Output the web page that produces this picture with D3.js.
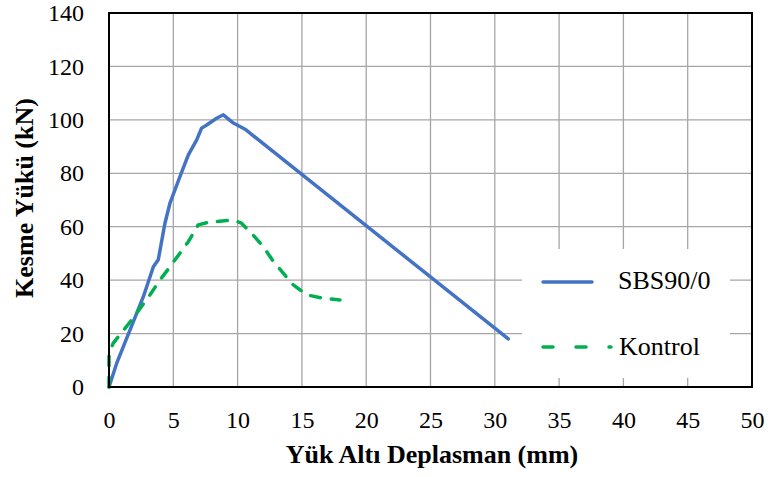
<!DOCTYPE html>
<html>
<head>
<meta charset="utf-8">
<script src="https://cdn.jsdelivr.net/npm/d3@7"></script>
<style>
  html, body { margin: 0; padding: 0; background: #fff; }
  svg { display: block; }
</style>
</head>
<body>
<svg id="chart" width="768" height="477"></svg>
<script>
// Load–displacement curves (displacement in mm, shear load in kN)
const sbsX = [0, 0.6, 1.63, 2.67, 3.45, 3.83, 4.35, 4.74, 5.52, 6.17, 6.82, 7.2, 7.6, 8.37, 8.89, 9.67, 10.58, 31.05];
const sbsY = [0, 8.9, 21.3, 33.8, 45, 47.6, 61.3, 68.8, 78.8, 86.9, 92.5, 96.9, 98.1, 100.6, 101.9, 98.8, 96.5, 18.0];

const kontrolX = [0, 0, 0.33, 1.76, 3.19, 3.97, 4.74, 6.17, 6.94, 7.6, 9.15, 9.8, 10.3, 11.2, 12.0, 12.8, 13.55, 14.33, 15.37, 16.67, 17.96];
const kontrolY = [0, 12.6, 16.4, 25.1, 34.5, 40.1, 45, 54.4, 60.7, 61.5, 62.3, 62.3, 61.3, 56.9, 52.5, 46.9, 42.6, 38.2, 34.5, 33.2, 32.6];

const xTicks = [0, 5, 10, 15, 20, 25, 30, 35, 40, 45, 50];
const yTicks = [0, 20, 40, 60, 80, 100, 120, 140];

const seriesNames = ["SBS90/0", "Kontrol"];
const xTitle = "Yük Altı Deplasman (mm)";
const yTitle = "Kesme Yükü (kN)";

const svg = d3.select("#chart");
const plotL = 109, plotR = 752, plotT = 13, plotB = 387;
const x = d3.scaleLinear().domain([0, 50]).range([plotL, plotR]);
const y = d3.scaleLinear().domain([0, 140]).range([plotB, plotT]);
const serif = "'Liberation Serif', 'Times New Roman', Times, serif";

// grid
const grid = svg.append("g").attr("stroke", "#a6a6a6").attr("stroke-width", 1.3);
grid.selectAll(".gx").data(xTicks).join("line")
  .attr("x1", d => x(d)).attr("x2", d => x(d)).attr("y1", plotT).attr("y2", plotB);
grid.selectAll(".gy").data(yTicks).join("line")
  .attr("x1", plotL).attr("x2", plotR).attr("y1", d => y(d)).attr("y2", d => y(d));

// axes (labels only; frame drawn below)
const xAxis = svg.append("g").attr("transform", `translate(0,${plotB})`)
  .call(d3.axisBottom(x).tickValues(xTicks).tickSize(0).tickPadding(24));
const yAxis = svg.append("g").attr("transform", `translate(${plotL},0)`)
  .call(d3.axisLeft(y).tickValues(yTicks).tickSize(0).tickPadding(25));
[xAxis, yAxis].forEach(a => {
  a.attr("font-family", serif).attr("font-size", 24);
  a.select(".domain").remove();
  a.selectAll("text").attr("fill", "#000");
});

// legend background
svg.append("rect").attr("x", 522).attr("y", 249).attr("width", 208).attr("height", 129).attr("fill", "#fff");

// series
const line = d3.line().x(d => x(d[0])).y(d => y(d[1]));
svg.append("path").datum(d3.zip(sbsX, sbsY)).attr("d", line)
  .attr("fill", "none").attr("stroke", "#4472C4").attr("stroke-width", 3.5)
  .attr("stroke-linejoin", "round").attr("stroke-linecap", "round");
svg.append("path").datum(d3.zip(kontrolX, kontrolY)).attr("d", line)
  .attr("fill", "none").attr("stroke", "#00B050").attr("stroke-width", 3.5)
  .attr("stroke-dasharray", "10,11").attr("stroke-linecap", "round").attr("stroke-linejoin", "round");

// frame
svg.append("rect").attr("x", plotL).attr("y", plotT).attr("width", plotR - plotL).attr("height", plotB - plotT)
  .attr("fill", "none").attr("stroke", "#000").attr("stroke-width", 2);

// legend
const lg = svg.append("g");
lg.append("line").attr("x1", 543).attr("x2", 592).attr("y1", 282).attr("y2", 282)
  .attr("stroke", "#4472C4").attr("stroke-width", 3.5).attr("stroke-linecap", "round");
lg.append("line").attr("x1", 543).attr("x2", 611).attr("y1", 347).attr("y2", 347)
  .attr("stroke", "#00B050").attr("stroke-width", 3.5).attr("stroke-linecap", "round")
  .attr("stroke-dasharray", "10,23");
lg.selectAll("text").data(seriesNames).join("text")
  .attr("x", (d, i) => i === 0 ? 618 : 619).attr("y", (d, i) => i === 0 ? 289 : 355)
  .attr("font-family", serif).attr("font-size", 26).attr("fill", "#000").text(d => d);

// axis titles
svg.append("text").attr("x", 432).attr("y", 463).attr("text-anchor", "middle")
  .attr("font-family", serif).attr("font-weight", "bold").attr("font-size", 26).text(xTitle);
svg.append("text").attr("transform", "translate(33,198) rotate(-90)").attr("text-anchor", "middle")
  .attr("font-family", serif).attr("font-weight", "bold").attr("font-size", 26).text(yTitle);
</script>
</body>
</html>
